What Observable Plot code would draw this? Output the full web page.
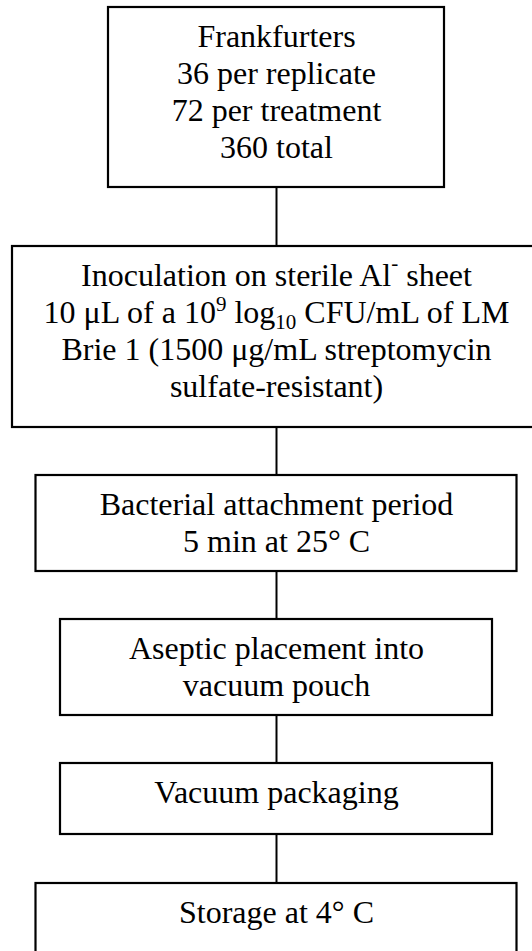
<!DOCTYPE html>
<html>
<head>
<meta charset="utf-8">
<script src="https://cdn.jsdelivr.net/npm/d3@7"></script>
<script src="https://cdn.jsdelivr.net/npm/@observablehq/plot@0.6"></script>
<style>
  html, body { margin: 0; padding: 0; background: #fff; overflow: hidden; }
  #chart svg { display: block; }
</style>
</head>
<body>
<div id="chart"></div>
<script>
// ---- Data: flowchart steps and their text lines ----
const steps = ["Frankfurters", "Inoculation", "Attachment", "Placement", "Packaging", "Storage"];
const stepLines = [
  ["Frankfurters", "36 per replicate", "72 per treatment", "360 total"],
  ["Inoculation on sterile Al⁻ sheet", "10 μL of a 10⁹ log₁₀ CFU/mL of LM", "Brie 1 (1500 μg/mL streptomycin", "sulfate-resistant)"],
  ["Bacterial attachment period", "5 min at 25° C"],
  ["Aseptic placement into", "vacuum pouch"],
  ["Vacuum packaging"],
  ["Storage at 4° C"]
];

// ---- Layout (pixels), kept separate from the data ----
const W = 532, H = 951;
const centerX = 276;
const topY = 7;
const boxWidths = [336, 528, 481, 432, 432, 481];
const boxHeights = [180, 181, 96, 96, 71, 71];
const gaps = [59, 48, 48, 48, 49];
const firstBaseline = 39.5;
const lineHeight = 37;

// Build tables for the marks
const boxes = [];
const lines = [];
const links = [];
let y = topY;
steps.forEach((s, i) => {
  const b = {step: s, x1: centerX - boxWidths[i] / 2, x2: centerX + boxWidths[i] / 2, y1: y, y2: y + boxHeights[i]};
  boxes.push(b);
  stepLines[i].forEach((t, j) => lines.push({step: s, text: t, x: centerX, y: y + firstBaseline + j * lineHeight}));
  if (i < steps.length - 1) {
    links.push({x: centerX, y1: b.y2, y2: b.y2 + gaps[i]});
    y = b.y2 + gaps[i];
  }
});

const chart = Plot.plot({
  width: W,
  height: H,
  margin: 0,
  x: {domain: [0, W], range: [0, W], axis: null},
  y: {domain: [0, H], range: [0, H], axis: null},
  style: {background: "white", color: "black", fontFamily: "'Liberation Serif', 'Times New Roman', serif"},
  marks: [
    Plot.ruleX(links, {x: "x", y1: "y1", y2: "y2", stroke: "black", strokeWidth: 2}),
    Plot.rect(boxes, {x1: "x1", x2: "x2", y1: "y1", y2: "y2", fill: "white", stroke: "black", strokeWidth: 2.2}),
    Plot.text(lines, {x: "x", y: "y", text: "text", lineAnchor: "bottom", textAnchor: "middle",
      fontSize: 32, fontFamily: "'Liberation Serif', 'Times New Roman', serif", fill: "black"})
  ]
});
document.getElementById("chart").appendChild(chart);

// Render superscript / subscript characters as shifted tspans (text stays real text)
const supMap = {"⁻": "-", "⁹": "9"};
const subMap = {"₁": "1", "₀": "0"};
const NS = "http://www.w3.org/2000/svg";
chart.querySelectorAll("text").forEach(el => {
  const s = el.textContent;
  if (![...s].some(c => supMap[c] || subMap[c])) return;
  const runs = [];
  for (const c of s) {
    const kind = supMap[c] ? "sup" : subMap[c] ? "sub" : "n";
    const ch = supMap[c] || subMap[c] || c;
    if (runs.length && runs[runs.length - 1].kind === kind) runs[runs.length - 1].t += ch;
    else runs.push({kind, t: ch});
  }
  el.textContent = "";
  let shift = 0;
  runs.forEach(r => {
    const ts = document.createElementNS(NS, "tspan");
    let target = r.kind === "sup" ? -12 : r.kind === "sub" ? 6 : 0;
    if (r.kind === "sup" && r.t === "-") target = -16;
    const dy = target - shift;
    if (dy) ts.setAttribute("dy", dy);
    shift = target;
    if (r.kind !== "n") ts.setAttribute("font-size", 21);
    ts.textContent = r.t;
    el.appendChild(ts);
  });
});
</script>
</body>
</html>
